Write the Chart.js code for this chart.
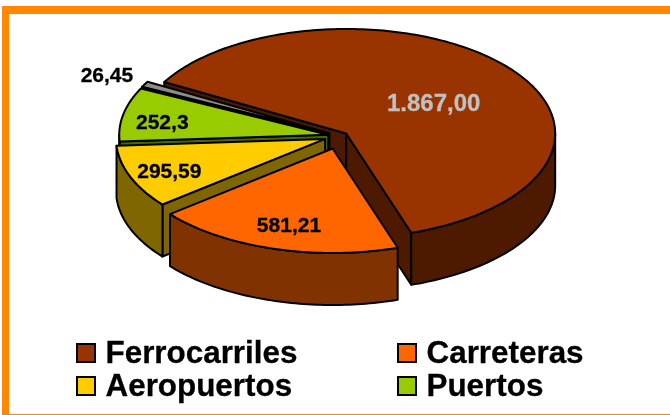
<!DOCTYPE html>
<html>
<head>
<meta charset="utf-8">
<script src="https://cdn.jsdelivr.net/npm/chart.js@4"></script>
<style>
  html,body{margin:0;padding:0;background:#fff;overflow:hidden}
  #stage{position:relative;width:670px;height:415px;font-family:"Liberation Sans",Arial,sans-serif}
  #frame{position:absolute;left:2px;top:6px;width:668px;height:400px;border:solid #FF8800;border-width:8px 0 2px 7px}
  #chart{position:absolute;left:0;top:0}
  #legend{position:absolute;left:76px;top:336px;display:grid;grid-template-columns:321px auto;grid-auto-rows:33px;font-weight:700;font-size:31.4px;line-height:33px;color:#000;-webkit-text-stroke:0.3px #000}
  #legend div{display:flex;align-items:center}
  #legend i{display:block;box-sizing:border-box;width:20px;height:20px;border:2px solid #000;margin-right:9.5px}
</style>
</head>
<body>
<div id="stage">
  <div id="frame"></div>
  <canvas id="chart" width="670" height="415"></canvas>
  <div id="legend"></div>
</div>
<script>
const categories = ['Ferrocarriles','Carreteras','Aeropuertos','Puertos','Otros'];
const values = [1867, 581.21, 295.59, 252.3, 26.45];
const valueLabels = ['1.867,00','581,21','295,59','252,3','26,45'];
const topColors = ['#993300','#FF6600','#FFCC00','#99CC00','#8C8C8C'];
const wallColors = ['#4D1A00','#803300','#806600','#4D6600','#333333'];
const legendItems = [0,1,2,3];

// how the slices are pulled out and stacked (back to front)
const explode = [8,26,16,12,12];
const drawOrder = [0,4,3,2,1];
const labelRadius = [0.51,0.77,0.8,0.8,1.21];
const labelNudgeX = [5,2,0,-2,1];
const labelNudgeY = [5,1,3,5,2];
const labelColors = ['#C0C0C0','#000','#000','#000','#000'];
const labelFonts = [24,21,21,21,21];

const squash = 0.5, depth = 52;

function sliceGeo(el, i, cy){
  const mid = (el.startAngle + el.endAngle) / 2;
  const X = el.x + Math.cos(mid) * explode[i];
  const Y = el.y + Math.sin(mid) * explode[i];
  return {
    X, Y, mid,
    pt(t, rr){
      const r = rr === undefined ? el.outerRadius : rr;
      return [X + Math.cos(t) * r, cy + (Y + Math.sin(t) * r - cy) * squash];
    }
  };
}

function poly(ctx, pts, fill){
  ctx.beginPath();
  pts.forEach((p,n)=> n ? ctx.lineTo(p[0],p[1]) : ctx.moveTo(p[0],p[1]));
  ctx.closePath();
  if(fill){ ctx.fillStyle = fill; ctx.fill(); }
  ctx.stroke();
}

function arcPts(g, a, b){
  const pts = [], n = Math.max(2, Math.ceil((b-a) / 0.02));
  for(let j=0;j<=n;j++) pts.push(g.pt(a + (b-a)*j/n));
  return pts;
}

const tilt = {
  id:'tilt',
  beforeDatasetDraw(chart){
    const ctx = chart.ctx, els = chart.getDatasetMeta(0).data;
    const cy = (chart.chartArea.top + chart.chartArea.bottom) / 2;
    ctx.save();
    ctx.lineWidth = 2;
    ctx.lineJoin = 'round';
    ctx.strokeStyle = '#000';
    drawOrder.forEach(i=>{
      const el = els[i], g = sliceGeo(el, i, cy);
      const a = el.startAngle, b = el.endAngle;
      const apex = g.pt(0, 0), down = p => [p[0], p[1] + depth];

      // side faces from the centre out to the rim, only those facing the viewer
      if(Math.cos(a) < 0){
        const rim = g.pt(a);
        poly(ctx, [apex, rim, down(rim), down(apex)], wallColors[i]);
      }
      if(Math.cos(b) > 0){
        const rim = g.pt(b);
        poly(ctx, [apex, rim, down(rim), down(apex)], wallColors[i]);
      }
      // outer wall, only the part facing the viewer
      const lo = Math.max(a,0), hi = Math.min(b,Math.PI);
      if(hi > lo){
        const front = arcPts(g, lo, hi);
        poly(ctx, front.concat(front.slice().reverse().map(down)), wallColors[i]);
      }
      // the top is the library's own arc, flattened
      ctx.save();
      ctx.translate(0, cy);
      ctx.scale(1, squash);
      ctx.translate(0, -cy);
      ctx.translate(g.X - el.x, g.Y - el.y);
      el.draw(ctx);
      ctx.restore();
      poly(ctx, [apex].concat(arcPts(g, a, b)));
    });
    ctx.restore();
    return false;
  },
  afterDatasetsDraw(chart){
    const ctx = chart.ctx, els = chart.getDatasetMeta(0).data;
    const cy = (chart.chartArea.top + chart.chartArea.bottom) / 2;
    ctx.save();
    ctx.textAlign = 'center';
    ctx.textBaseline = 'middle';
    ctx.lineWidth = 0.3;
    els.forEach((el,i)=>{
      const g = sliceGeo(el, i, cy);
      const p = g.pt(g.mid, el.outerRadius * labelRadius[i]);
      ctx.font = 'bold ' + labelFonts[i] + 'px "Liberation Sans", Arial, sans-serif';
      ctx.fillStyle = labelColors[i];
      ctx.strokeStyle = labelColors[i];
      ctx.fillText(valueLabels[i], p[0] + labelNudgeX[i], p[1] + labelNudgeY[i]);
      ctx.strokeText(valueLabels[i], p[0] + labelNudgeX[i], p[1] + labelNudgeY[i]);
    });
    ctx.restore();
  }
};

new Chart(document.getElementById('chart'), {
  type:'pie',
  data:{
    labels:categories,
    datasets:[{ data:values, backgroundColor:topColors, borderWidth:0, radius:209 }]
  },
  options:{
    responsive:false,
    animation:false,
    rotation:-60.5,
    layout:{ padding:{ left:10, right:0, top:0, bottom:143 } },
    plugins:{ legend:{ display:false }, tooltip:{ enabled:false } }
  },
  plugins:[tilt]
});

document.getElementById('legend').innerHTML = legendItems.map(i =>
  `<div><i style="background:${topColors[i]}"></i>${categories[i]}</div>`
).join('');
</script>
</body>
</html>
